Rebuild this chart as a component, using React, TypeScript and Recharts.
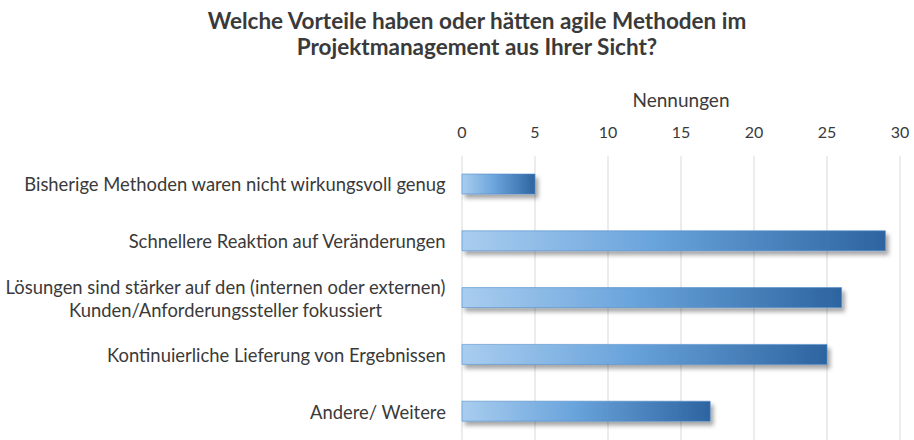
import React from "react";
import { BarChart, Bar, XAxis, YAxis, CartesianGrid } from "recharts";

// ---------------------------------------------------------------------------
// Data
// ---------------------------------------------------------------------------

const categories = [
  "Bisherige Methoden waren nicht wirkungsvoll genug",
  "Schnellere Reaktion auf Veränderungen",
  "Lösungen sind stärker auf den (internen oder externen)\nKunden/Anforderungssteller fokussiert",
  "Kontinuierliche Lieferung von Ergebnissen",
  "Andere/ Weitere",
];

const nennungen = [5, 29, 26, 25, 17];

const xTicks = [0, 5, 10, 15, 20, 25, 30];

const titleLines = [
  "Welche Vorteile haben oder hätten agile Methoden im",
  "Projektmanagement aus Ihrer Sicht?",
];

const FONT = "Lato, 'Open Sans', sans-serif";
const TEXT_COLOR = "#3a3a3a";
const LABEL_SIZE = 18.4;

const chartData = categories.map((name, i) => ({ name, value: nennungen[i] }));

let measureCtx: CanvasRenderingContext2D | null = null;
function textWidth(s: string, font: string): number {
  if (!measureCtx) {
    const c = document.createElement("canvas");
    measureCtx = c.getContext("2d");
  }
  if (!measureCtx) return s.length * 8;
  measureCtx.font = font;
  return measureCtx.measureText(s).width;
}

// Multi-line category tick: lines centered on each other, block right-aligned
function CategoryTick(props: any) {
  const { x, y, payload } = props;
  const lines = String(payload.value).split("\n");
  const font = `${LABEL_SIZE}px Lato`;
  const maxW = Math.max(...lines.map((l) => textWidth(l, font)));
  const cx = x - maxW / 2;
  const lineH = 23;
  const startY = y - ((lines.length - 1) * lineH) / 2;
  return (
    <text
      x={cx}
      y={startY}
      textAnchor="middle"
      dominantBaseline="central"
      fill={TEXT_COLOR}
      fontSize={LABEL_SIZE}
      fontFamily={FONT}
    >
      {lines.map((l, i) => (
        <tspan key={i} x={cx} y={startY + i * lineH}>
          {l}
        </tspan>
      ))}
    </text>
  );
}

export default function App() {
  return (
    <div style={{ position: "absolute", left: 0, top: 0, width: 914, height: 440, background: "#fff" }}>
      <BarChart
        width={914}
        height={440}
        data={chartData}
        layout="vertical"
        margin={{ top: 96, right: 14, bottom: 0, left: 0 }}
        barCategoryGap={0}
        style={{ position: "absolute", left: 0, top: 0 }}
      >
        <defs>
          <linearGradient id="barFill" x1="0" y1="0" x2="1" y2="0">
            <stop offset="0%" stopColor="#a9cdef" />
            <stop offset="45%" stopColor="#6aa4dc" />
            <stop offset="100%" stopColor="#2d64a0" />
          </linearGradient>
          <filter id="barShadow" x="-5%" y="-30%" width="115%" height="190%">
            <feDropShadow dx="3" dy="4" stdDeviation="2.2" floodColor="#000" floodOpacity="0.35" />
          </filter>
        </defs>
        <CartesianGrid horizontal={false} stroke="#d9d9d9" />
        <XAxis
          type="number"
          orientation="top"
          domain={[0, 30]}
          ticks={xTicks}
          interval={0}
          axisLine={false}
          tickLine={false}
          height={60}
          tickMargin={12}
          tick={{ fill: TEXT_COLOR, fontSize: 16, fontFamily: FONT }}
          label={{
            value: "Nennungen",
            position: "insideTop",
            offset: -2,
            fill: TEXT_COLOR,
            fontSize: 19,
            fontFamily: FONT,
          }}
        />
        <YAxis
          type="category"
          dataKey="name"
          width={462}
          axisLine={false}
          tickLine={false}
          tickMargin={10}
          interval={0}
          tick={<CategoryTick />}
        />
        <Bar
          dataKey="value"
          barSize={20}
          fill="url(#barFill)"
          stroke="#4f8cc9"
          strokeWidth={0.6}
          filter="url(#barShadow)"
          isAnimationActive={false}
        />
      </BarChart>
      <div
        style={{
          position: "absolute",
          left: 0,
          top: 8,
          width: 954,
          textAlign: "center",
          fontFamily: FONT,
          fontWeight: 700,
          fontSize: 22.5,
          lineHeight: "26px",
          color: TEXT_COLOR,
          pointerEvents: "none",
        }}
      >
        {titleLines.map((t) => (
          <div key={t}>{t}</div>
        ))}
      </div>
    </div>
  );
}
